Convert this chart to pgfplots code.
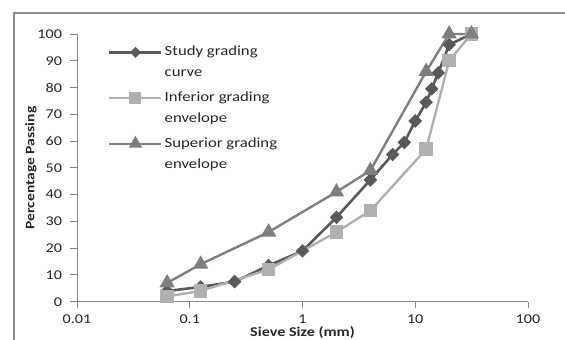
\documentclass[border=0pt]{standalone}
\usepackage{pgfplots}
\pgfplotsset{compat=1.18}
\usepackage{fontspec}
\setmainfont{Carlito}[FakeStretch=1.2]

\definecolor{studyc}{HTML}{595959}
\definecolor{infc}{HTML}{B0B0B0}
\definecolor{supc}{HTML}{7F7F7F}
\definecolor{axisc}{HTML}{868686}
\definecolor{framec}{HTML}{8C8C8C}
\definecolor{txtc}{HTML}{262626}

% two-line legend entry, baseline on the first line
\newcommand{\twoline}[2]{\vtop{\hbox{#1}\hbox{#2\vphantom{p}}}}

\begin{document}
\begin{tikzpicture}
% chart frame
\draw[framec, line width=1.6bp] (14bp,-400bp) -- (14bp,-13bp) -- (640bp,-13bp);
\begin{axis}[
  at={(77bp,-301.7bp)}, anchor=south west,
  scale only axis, width=451bp, height=267.7bp,
  xmode=log, log basis x=10,
  xmin=0.01, xmax=100, ymin=0, ymax=100,
  xtick={0.01,0.1,1,10,100},
  xticklabels={0.01,0.1,1,10,100},
  ytick={0,10,...,100},
  minor xtick={},
  axis lines*=left,
  axis line style={axisc, line width=0.9bp, -},
  tick align=outside,
  major tick length=6.5bp,
  every tick/.style={axisc, line width=0.9bp},
  /pgf/number format/assume math mode=true,
  tick label style={font=\fontsize{13.5}{15}\selectfont, text=txtc},
  xticklabel style={yshift=-3bp},
  yticklabel style={xshift=-5bp},
  xlabel={Sieve Size (mm)},
  ylabel={Percentage Passing},
  every axis x label/.style={at={([yshift=-31bp]axis description cs:0.5,0)}, anchor=center},
  every axis y label/.style={at={([xshift=-46bp]axis description cs:0,0.5)}, rotate=90, anchor=center},
  xlabel style={font=\fontsize{13.5}{15}\selectfont\bfseries, text=txtc},
  ylabel style={font=\fontsize{13}{15}\selectfont\bfseries, text=txtc},
  clip=false,
  legend style={
    at={(axis description cs:0.062,0.97)}, anchor=north west,
    draw=none, fill=none,
    font=\fontsize{14}{21}\selectfont, text=txtc,
    row sep=30.5bp,
    cells={anchor=base west},
    nodes={yshift=-3.5bp},
  },
  legend image code/.code={
    \draw[mark repeat=2, mark phase=2] plot coordinates {(0bp,0bp) (26bp,0bp) (52bp,0bp)};
  },
]
% study grading curve
\addplot[studyc, line width=2.6bp, mark=square*, mark size=3.5bp, mark options={rotate=45, solid},
  legend image post style={mark size=2.6bp}]
  coordinates {
  (0.063,4) (0.125,5.5) (0.25,7.5) (0.5,13.5) (1,19) (2,31.5) (4,45.5)
  (6.3,55) (8,59.5) (10,67.5) (12.5,74.5) (14,79.5) (16,85.5) (20,96) (31.5,100)
  };
\addlegendentry{\twoline{Study grading}{curve}}
% inferior grading envelope
\addplot[infc, line width=2.4bp, mark=square*, mark size=5.5bp, mark options={solid},
  legend image post style={mark size=4.8bp}]
  coordinates {
  (0.063,2) (0.125,4) (0.5,12) (2,26) (4,34) (12.5,57) (20,90) (31.5,100)
  };
\addlegendentry{\twoline{Inferior grading}{envelope}}
% superior grading envelope
\addplot[supc, line width=2.4bp, mark=triangle*, mark size=6.5bp, mark options={solid},
  legend image post style={mark size=5.5bp}]
  coordinates {
  (0.063,7) (0.125,14) (0.5,26) (2,41) (4,49) (12.5,86) (20,100) (31.5,100)
  };
\addlegendentry{\twoline{Superior grading}{envelope}}
\end{axis}
\pgfresetboundingbox
\useasboundingbox (0,0) rectangle (565bp,-340bp);
\end{tikzpicture}
\end{document}
